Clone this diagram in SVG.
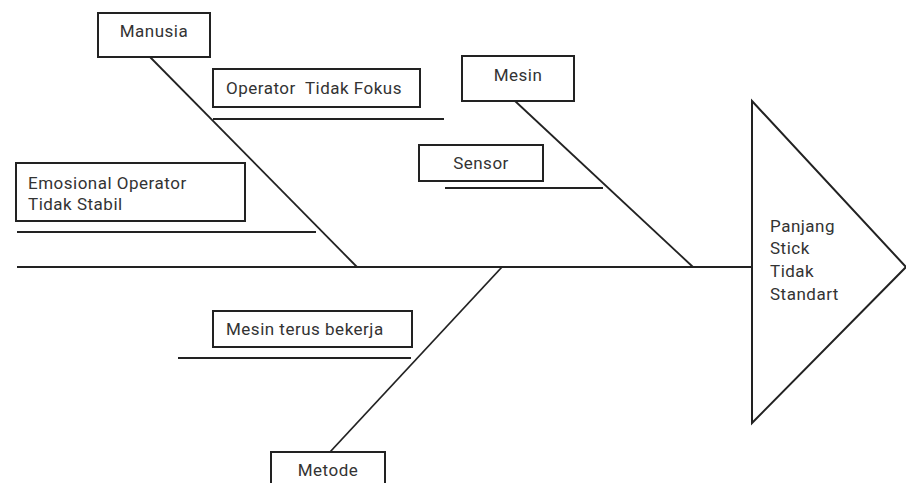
<svg xmlns="http://www.w3.org/2000/svg" width="906" height="483" viewBox="0 0 906 483">
<style>
.b{fill:#fff;stroke:#222;stroke-width:2}
.l{stroke:#222;stroke-width:1.8;fill:none}
.t{font-family:Roboto,"Liberation Sans",sans-serif;font-size:17px;letter-spacing:0.5px;fill:#333}
.c{text-anchor:middle}
</style>
<rect width="906" height="483" fill="#fff"/>
<g id="connectors">
<line class="l" x1="17" y1="267" x2="752" y2="267"/>
<line class="l" x1="150" y1="57" x2="357" y2="267"/>
<line class="l" x1="515" y1="101" x2="693" y2="267"/>
<line class="l" x1="502" y1="267" x2="330" y2="452"/>
<line class="l" x1="213" y1="119" x2="444" y2="119"/>
<line class="l" x1="17" y1="232" x2="316" y2="232"/>
<line class="l" x1="445" y1="188" x2="603" y2="188"/>
<line class="l" x1="178" y1="358" x2="411" y2="358"/>
</g>
<g id="effect">
<polygon class="b" points="752,101 906,267 752,423"/>
<text class="t" x="770" y="232">Panjang</text>
<text class="t" x="770" y="254">Stick</text>
<text class="t" x="770" y="277">Tidak</text>
<text class="t" x="770" y="300">Standart</text>
</g>
<g id="manusia">
<rect class="b" x="98" y="13" width="112" height="44"/>
<text class="t c" x="154" y="37">Manusia</text>
</g>
<g id="operator-tidak-fokus">
<rect class="b" x="213" y="69" width="207" height="38"/>
<text class="t" x="226" y="94" xml:space="preserve">Operator  Tidak Fokus</text>
</g>
<g id="emosional">
<rect class="b" x="16" y="163" width="229" height="58"/>
<text class="t" x="28" y="189">Emosional Operator</text>
<text class="t" x="28" y="210">Tidak Stabil</text>
</g>
<g id="mesin">
<rect class="b" x="462" y="56" width="112" height="45"/>
<text class="t c" x="518" y="81">Mesin</text>
</g>
<g id="sensor">
<rect class="b" x="419" y="145" width="124" height="36"/>
<text class="t c" x="481" y="169">Sensor</text>
</g>
<g id="mesin-terus-bekerja">
<rect class="b" x="213" y="311" width="199" height="36"/>
<text class="t" x="226" y="335">Mesin terus bekerja</text>
</g>
<g id="metode">
<rect class="b" x="271" y="452" width="114" height="40"/>
<text class="t c" x="328" y="476">Metode</text>
</g>
</svg>
